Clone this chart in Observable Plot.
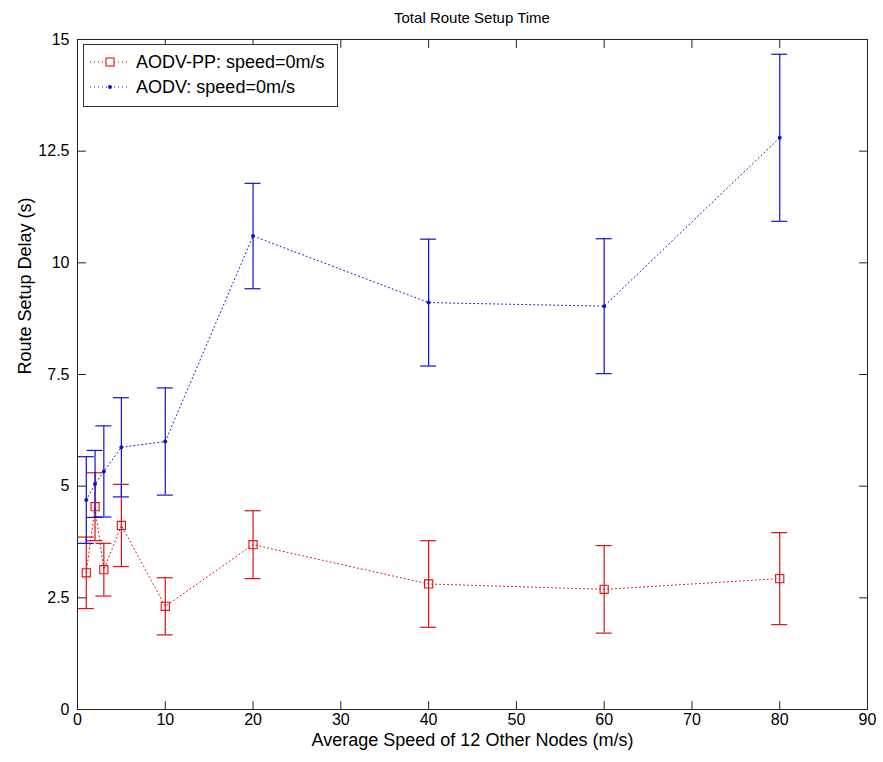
<!DOCTYPE html>
<html><head><meta charset="utf-8">
<script src="https://cdn.jsdelivr.net/npm/d3@7"></script>
<script src="https://cdn.jsdelivr.net/npm/@observablehq/plot@0.6"></script>
<style>
body{margin:0;background:#fff;font-family:"Liberation Sans",Arial,sans-serif;color:#000;}
#wrap{position:relative;width:883px;height:762px;}
#title{position:absolute;left:77px;width:790px;top:10px;line-height:15px;font-size:15px;text-align:center;}
#chart{position:absolute;left:0;top:30px;}
#legend{position:absolute;left:83px;top:44px;width:255px;height:63px;border:1px solid #333;background:#fff;box-sizing:border-box;}
.lrow{position:absolute;left:0;height:24px;display:flex;align-items:center;font-size:18px;white-space:nowrap;}
.lrow svg{margin-left:6px;margin-right:6px;}
</style>
</head><body>
<div id="wrap">
  <div id="title">Total Route Setup Time</div>
  <div id="chart"></div>
  <div id="legend"></div>
</div>
<script>
// data
const speeds = [1, 2, 3, 5, 10, 20, 40, 60, 80];
const aodvppMean = [3.06, 4.54, 3.13, 4.12, 2.31, 3.69, 2.81, 2.69, 2.93];
const aodvppErr  = [0.80, 0.76, 0.59, 0.92, 0.64, 0.76, 0.97, 0.98, 1.03];
const aodvMean   = [4.69, 5.05, 5.33, 5.87, 6.00, 10.60, 9.11, 9.03, 12.80];
const aodvErr    = [0.97, 0.75, 1.02, 1.11, 1.20, 1.18, 1.42, 1.51, 1.87];
const seriesNames = ["AODV-PP: speed=0m/s", "AODV: speed=0m/s"];
const xTicks = [0, 10, 20, 30, 40, 50, 60, 70, 80, 90];
const yTicks = [0, 2.5, 5, 7.5, 10, 12.5, 15];
const xLabel = "Average Speed of 12 Other Nodes (m/s)";
const yLabel = "Route Setup Delay (s)";

const RED = "#e01010", BLUE = "#1212d0";
const pp = speeds.map((x, i) => ({x, y: aodvppMean[i], lo: aodvppMean[i] - aodvppErr[i], hi: aodvppMean[i] + aodvppErr[i]}));
const av = speeds.map((x, i) => ({x, y: aodvMean[i], lo: aodvMean[i] - aodvErr[i], hi: aodvMean[i] + aodvErr[i]}));

function errMarks(data, color) {
  return [
    Plot.ruleX(data, {x: "x", y1: "lo", y2: "hi", stroke: color, strokeWidth: 1.2}),
    Plot.ruleY(data, {y: "hi", x1: "x", x2: "x", insetLeft: -8, insetRight: -8, stroke: color, strokeWidth: 1.2}),
    Plot.ruleY(data, {y: "lo", x1: "x", x2: "x", insetLeft: -8, insetRight: -8, stroke: color, strokeWidth: 1.2})
  ];
}

// inward tick shape
const tickShape = {draw(ctx, l) { ctx.moveTo(0, 0); ctx.lineTo(0, -l); }};
const tickOpts = {length: 8, anchor: "start", shape: tickShape, stroke: "#222", strokeWidth: 1};

const chart = Plot.plot({
  width: 883,
  height: 732,
  marginLeft: 77,
  marginRight: 16,
  marginTop: 9,
  marginBottom: 53,
  style: {fontFamily: "'Liberation Sans', Arial, sans-serif", color: "#000", background: "#fff"},
  x: {domain: [0, 90]},
  y: {domain: [0, 15]},
  marks: [
    Plot.line(pp, {x: "x", y: "y", stroke: RED, strokeWidth: 1, strokeDasharray: "1,3"}),
    Plot.line(av, {x: "x", y: "y", stroke: BLUE, strokeWidth: 1, strokeDasharray: "1,3"}),
    ...errMarks(pp, RED),
    ...errMarks(av, BLUE),
    Plot.dot(pp, {x: "x", y: "y", symbol: "square", r: 4.6, stroke: RED, fill: "none", strokeWidth: 1.1}),
    Plot.dot(av, {x: "x", y: "y", r: 2, fill: BLUE, stroke: "none"}),
    Plot.frame({stroke: "#222", strokeWidth: 1}),
    Plot.vector(xTicks, {x: d => d, frameAnchor: "bottom", rotate: 0, ...tickOpts}),
    Plot.vector(xTicks, {x: d => d, frameAnchor: "top", rotate: 180, ...tickOpts}),
    Plot.vector(yTicks, {y: d => d, frameAnchor: "left", rotate: 90, ...tickOpts}),
    Plot.vector(yTicks, {y: d => d, frameAnchor: "right", rotate: -90, ...tickOpts}),
    Plot.axisX(xTicks, {anchor: "bottom", tickSize: 0, tickPadding: 4, fontSize: 16, label: null}),
    Plot.axisY(yTicks, {anchor: "left", tickSize: 0, tickPadding: 8, fontSize: 16, label: null, tickFormat: d => String(d)}),
    Plot.text([xLabel], {frameAnchor: "bottom", dy: 36, fontSize: 18, fill: "#000"}),
    Plot.text([yLabel], {frameAnchor: "left", dx: -52, rotate: -90, fontSize: 18, fill: "#000"})
  ]
});
document.getElementById("chart").appendChild(chart);

// legend (inside the axes, top-left, as in the reference)
const legend = document.getElementById("legend");
[[RED, "square"], [BLUE, "dot"]].forEach(([color, kind], i) => {
  const row = document.createElement("div");
  row.className = "lrow";
  row.style.top = (5 + i * 25) + "px";
  const s = d3.create("svg").attr("width", 40).attr("height", 20);
  s.append("line").attr("x1", 0).attr("x2", 40).attr("y1", 10).attr("y2", 10)
    .attr("stroke", color).attr("stroke-dasharray", "1,3");
  if (kind === "square") {
    s.append("rect").attr("x", 16).attr("y", 6).attr("width", 8).attr("height", 8)
      .attr("fill", "#fff").attr("stroke", color).attr("stroke-width", 1.1);
  } else {
    s.append("circle").attr("cx", 20).attr("cy", 10).attr("r", 2).attr("fill", color);
  }
  row.appendChild(s.node());
  const t = document.createElement("span");
  t.textContent = seriesNames[i];
  row.appendChild(t);
  legend.appendChild(row);
});
</script>
</body></html>
